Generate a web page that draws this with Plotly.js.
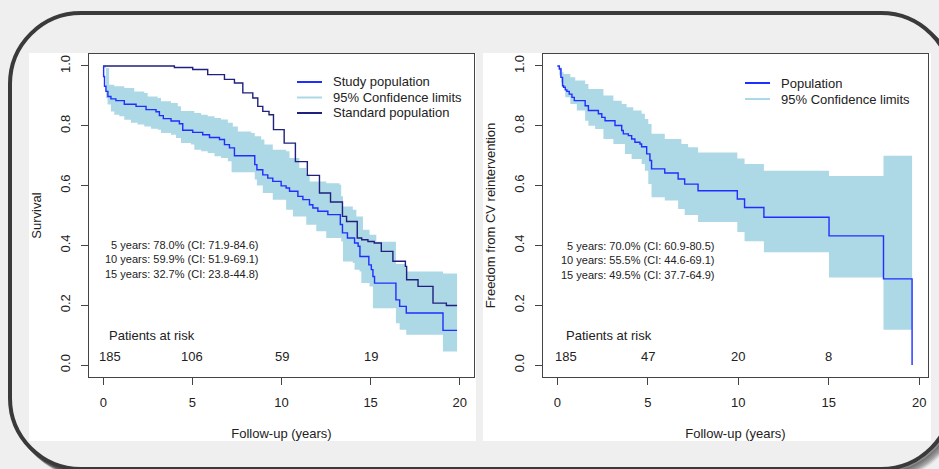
<!DOCTYPE html>
<html><head><meta charset="utf-8">
<script src="https://cdn.plot.ly/plotly-3.0.1.min.js"></script>
<style>html,body{margin:0;padding:0;background:#efefef;}#chart{width:939px;height:469px;}</style>
</head><body><div id="chart"></div>
<script>
// ---------- LEFT PANEL: overall survival ----------
const studyT = [0, 0.02, 0.07, 0.15, 0.26, 0.43, 0.71, 1.18, 1.84, 2.40, 2.96, 3.15, 3.37, 3.80, 4.27, 4.46, 5.02, 5.58, 5.96, 6.52, 6.80, 7.08, 7.36, 8.50, 8.62, 8.95, 9.23, 9.51, 9.98, 10.26, 10.45, 10.92, 11.20, 11.57, 11.76, 12.04, 12.60, 13.30, 13.42, 13.70, 14.10, 14.30, 14.40, 14.90, 15.04, 15.13, 15.22, 16.42, 16.63, 17.00, 19.06];
const studyS = [1.0, 0.965, 0.932, 0.915, 0.898, 0.890, 0.884, 0.872, 0.865, 0.854, 0.847, 0.834, 0.824, 0.816, 0.807, 0.785, 0.778, 0.770, 0.761, 0.754, 0.737, 0.726, 0.700, 0.670, 0.653, 0.636, 0.625, 0.614, 0.599, 0.592, 0.581, 0.564, 0.553, 0.536, 0.525, 0.514, 0.503, 0.470, 0.442, 0.425, 0.408, 0.397, 0.363, 0.335, 0.319, 0.296, 0.274, 0.218, 0.196, 0.174, 0.116];
const studyEnd = 19.85;

const studyUpT = [0, 0.06, 0.33, 0.62, 1.18, 1.74, 2.30, 2.49, 3.05, 3.24, 3.80, 4.18, 4.36, 5.11, 5.49, 5.86, 6.24, 6.61, 6.99, 7.27, 7.55, 8.30, 8.50, 8.86, 9.04, 9.51, 10.26, 10.45, 11.00, 11.39, 11.58, 12.51, 13.26, 13.35, 13.45, 14.00, 14.20, 14.57, 14.94, 15.32, 16.42, 17.00, 19.06];
const studyUpS = [1.0, 0.993, 0.937, 0.932, 0.926, 0.915, 0.910, 0.898, 0.893, 0.882, 0.876, 0.865, 0.849, 0.843, 0.837, 0.832, 0.826, 0.821, 0.810, 0.798, 0.781, 0.776, 0.765, 0.754, 0.737, 0.720, 0.715, 0.692, 0.659, 0.637, 0.614, 0.608, 0.603, 0.564, 0.530, 0.519, 0.497, 0.452, 0.436, 0.412, 0.338, 0.313, 0.306];

const studyLoT = [0, 0.15, 0.24, 0.43, 0.62, 0.90, 1.18, 1.55, 1.93, 2.30, 2.68, 3.05, 3.24, 3.80, 4.08, 4.36, 4.92, 5.11, 5.49, 5.86, 6.24, 6.61, 6.99, 7.20, 8.50, 8.62, 8.95, 9.51, 10.26, 10.64, 11.39, 11.95, 12.51, 13.35, 13.45, 14.00, 14.10, 14.38, 14.48, 14.94, 15.13, 16.42, 16.63, 17.00, 19.06];
const studyLoS = [1.0, 0.893, 0.871, 0.848, 0.837, 0.832, 0.820, 0.810, 0.804, 0.798, 0.790, 0.787, 0.776, 0.770, 0.759, 0.742, 0.737, 0.720, 0.715, 0.709, 0.698, 0.692, 0.681, 0.645, 0.620, 0.600, 0.575, 0.553, 0.519, 0.497, 0.469, 0.447, 0.425, 0.413, 0.346, 0.341, 0.319, 0.313, 0.274, 0.263, 0.190, 0.140, 0.118, 0.101, 0.045];

const stdT = [0, 3.99, 5.02, 5.86, 6.80, 7.36, 7.83, 8.39, 8.67, 8.95, 9.30, 9.55, 10.15, 10.78, 11.45, 12.13, 12.75, 13.42, 13.65, 14.25, 14.50, 14.85, 15.20, 15.60, 16.25, 16.95, 17.02, 17.66, 18.50, 19.25];
const stdS = [1.0, 0.995, 0.988, 0.971, 0.955, 0.943, 0.910, 0.893, 0.865, 0.848, 0.837, 0.787, 0.742, 0.680, 0.634, 0.575, 0.545, 0.497, 0.480, 0.425, 0.419, 0.413, 0.408, 0.380, 0.347, 0.330, 0.285, 0.263, 0.207, 0.199];
const stdEnd = 19.85;

const leftLegendNames = ["Study population", "95% Confidence limits", "Standard population"];
const leftRiskYears = [0, 5, 10, 15];
const leftRiskN = ["185", "106", "59", "19"];
const leftCIText = ["5 years: 78.0% (CI: 71.9-84.6)", "10 years: 59.9% (CI: 51.9-69.1)", "15 years: 32.7% (CI: 23.8-44.8)"];

// ---------- RIGHT PANEL: freedom from CV reintervention ----------
const popT = [0, 0.11, 0.20, 0.29, 0.35, 0.44, 0.53, 0.66, 0.81, 0.94, 1.54, 1.72, 2.27, 2.46, 2.64, 3.19, 3.56, 3.65, 3.93, 4.11, 4.29, 4.57, 4.66, 4.94, 5.12, 5.21, 5.94, 6.68, 7.04, 7.78, 9.95, 10.35, 11.42, 15.02, 18.03, 19.61];
const popS = [1.0, 0.990, 0.962, 0.934, 0.929, 0.920, 0.915, 0.906, 0.895, 0.884, 0.867, 0.851, 0.840, 0.828, 0.817, 0.801, 0.784, 0.773, 0.767, 0.756, 0.745, 0.739, 0.730, 0.706, 0.684, 0.656, 0.642, 0.622, 0.605, 0.583, 0.555, 0.527, 0.494, 0.432, 0.288, 0.0];
const popEnd = 19.61;

const popUpT = [0, 0.165, 0.26, 0.35, 0.72, 0.99, 1.54, 1.72, 2.55, 3.10, 3.56, 3.83, 4.20, 4.66, 4.84, 5.03, 5.21, 5.94, 6.86, 7.23, 7.78, 9.95, 10.35, 11.42, 15.02, 18.03];
const popUpS = [1.0, 0.995, 0.979, 0.973, 0.962, 0.951, 0.940, 0.923, 0.901, 0.884, 0.873, 0.862, 0.851, 0.840, 0.823, 0.806, 0.773, 0.756, 0.739, 0.728, 0.711, 0.691, 0.672, 0.650, 0.632, 0.700];

const popLoT = [0, 0.11, 0.20, 0.26, 0.44, 0.72, 1.08, 1.54, 1.72, 2.09, 2.55, 3.10, 3.74, 4.11, 4.66, 4.84, 5.03, 5.21, 5.94, 6.68, 7.04, 7.78, 9.95, 10.35, 11.42, 15.02, 18.03];
const popLoS = [1.0, 0.970, 0.945, 0.929, 0.895, 0.873, 0.851, 0.817, 0.800, 0.789, 0.756, 0.739, 0.706, 0.689, 0.672, 0.650, 0.605, 0.561, 0.550, 0.522, 0.502, 0.478, 0.445, 0.414, 0.377, 0.293, 0.118];

const rightLegendNames = ["Population", "95% Confidence limits"];
const rightRiskYears = [0, 5, 10, 15];
const rightRiskN = ["185", "47", "20", "8"];
const rightCIText = ["5 years: 70.0% (CI: 60.9-80.5)", "10 years: 55.5% (CI: 44.6-69.1)", "15 years: 49.5% (CI: 37.7-64.9)"];

const xTicks = [0, 5, 10, 15, 20];
const yTicks = [0, 0.2, 0.4, 0.6, 0.8, 1.0];

// ---------- helpers ----------
const W = 939, H = 469;
const FONT = "Liberation Sans, Arial, Helvetica, sans-serif";
const BLUE = "#1f2fff", NAVY = "#20207f", BAND = "#ADD8E6", INK = "#222";

function stepLine(ts, vs, tEnd) {
  return { x: ts.concat([tEnd]), y: vs.concat([vs[vs.length - 1]]) };
}
function stepPts(ts, vs, tEnd) {
  const x = [], y = [];
  for (let i = 0; i < ts.length; i++) {
    if (i > 0) { x.push(ts[i]); y.push(vs[i - 1]); }
    x.push(ts[i]); y.push(vs[i]);
  }
  x.push(tEnd); y.push(vs[vs.length - 1]);
  return { x, y };
}
function band(upT, upS, loT, loS, tEnd, xa, ya) {
  const u = stepPts(upT, upS, tEnd), l = stepPts(loT, loS, tEnd);
  return {
    x: u.x.concat(l.x.slice().reverse()), y: u.y.concat(l.y.slice().reverse()),
    xaxis: xa, yaxis: ya, type: "scatter", mode: "lines", fill: "toself",
    fillcolor: BAND, line: { width: 0, color: BAND }, showlegend: false, hoverinfo: "skip",
    name: "95% Confidence limits"
  };
}
function P(px, py) { return (px / W).toFixed(5) + "," + (1 - py / H).toFixed(5); }
function rr(x0, y0, x1, y1, r) {
  const k = 0.5523 * r;
  return "M" + P(x0 + r, y0) + " L" + P(x1 - r, y0) +
    " C" + P(x1 - r + k, y0) + " " + P(x1, y0 + r - k) + " " + P(x1, y0 + r) +
    " L" + P(x1, y1 - r) +
    " C" + P(x1, y1 - r + k) + " " + P(x1 - r + k, y1) + " " + P(x1 - r, y1) +
    " L" + P(x0 + r, y1) +
    " C" + P(x0 + r - k, y1) + " " + P(x0, y1 - r + k) + " " + P(x0, y1 - r) +
    " L" + P(x0, y0 + r) +
    " C" + P(x0, y0 + r - k) + " " + P(x0 + r - k, y0) + " " + P(x0 + r, y0) + " Z";
}

// ---------- traces ----------
const sL = stepLine(studyT, studyS, studyEnd);
const dL = stepLine(stdT, stdS, stdEnd);
const pL = stepLine(popT, popS, popEnd);

const traces = [
  band(studyUpT, studyUpS, studyLoT, studyLoS, studyEnd, "x", "y"),
  { x: dL.x, y: dL.y, xaxis: "x", yaxis: "y", type: "scatter", mode: "lines", line: { shape: "hv", color: NAVY, width: 1.4 },
    name: "Standard population", showlegend: false },
  { x: sL.x, y: sL.y, xaxis: "x", yaxis: "y", type: "scatter", mode: "lines", line: { shape: "hv", color: BLUE, width: 1.4 },
    name: "Study population", showlegend: false },
  band(popUpT, popUpS, popLoT, popLoS, popEnd, "x2", "y2"),
  { x: pL.x, y: pL.y, xaxis: "x2", yaxis: "y2", type: "scatter", mode: "lines", line: { shape: "hv", color: BLUE, width: 1.4 },
    name: "Population", showlegend: false }
];

// ---------- axes ----------
function xAxis(domain, range, anchor) {
  return {
    domain, range, anchor, tickvals: xTicks, showline: true, mirror: true, linecolor: "#444", linewidth: 1,
    ticks: "outside", ticklen: 7, tickcolor: "#444", showgrid: false, zeroline: false, automargin: false,
    tickfont: { size: 13, color: INK }, ticklabelstandoff: 6,
    title: { text: "Follow-up (years)", font: { size: 13, color: INK }, standoff: 20 }
  };
}
function yAxis(domain, anchor, title) {
  return {
    domain, range: [-0.04, 1.04], anchor, tickvals: yTicks, tickformat: ".1f", tickangle: -90,
    showline: true, mirror: true, linecolor: "#444", linewidth: 1,
    ticks: "outside", ticklen: 7, tickcolor: "#444", showgrid: false, zeroline: false, automargin: false,
    tickfont: { size: 13, color: INK }, ticklabelstandoff: 6,
    title: { text: title, font: { size: 13, color: INK }, standoff: 13 }
  };
}
const yDom = [1 - 377 / H, 1 - 54 / H];

// ---------- annotations ----------
const ann = [];
ann.push({ xref: "x", yref: "y", x: 8.82, y: 0.352, text: leftCIText.join("<br>"), align: "right", xanchor: "right", yanchor: "middle",
  showarrow: false, font: { size: 11, color: INK } });
ann.push({ xref: "x2", yref: "y2", x: 8.79, y: 0.351, text: rightCIText.join("<br>"), align: "right", xanchor: "right", yanchor: "middle",
  showarrow: false, font: { size: 11, color: INK } });
ann.push({ xref: "x", yref: "y", x: 0.22, y: 0.098, text: "Patients at risk", xanchor: "left", yanchor: "middle", showarrow: false, font: { size: 13, color: INK } });
ann.push({ xref: "x2", yref: "y2", x: 0.35, y: 0.098, text: "Patients at risk", xanchor: "left", yanchor: "middle", showarrow: false, font: { size: 13, color: INK } });
leftRiskYears.forEach((t, i) => ann.push({ xref: "x", yref: "y", x: i === 0 ? 0.39 : t, y: 0.029, text: leftRiskN[i], xanchor: "center", yanchor: "middle", showarrow: false, font: { size: 13, color: INK } }));
rightRiskYears.forEach((t, i) => ann.push({ xref: "x2", yref: "y2", x: i === 0 ? 0.47 : t, y: 0.029, text: rightRiskN[i], xanchor: "center", yanchor: "middle", showarrow: false, font: { size: 13, color: INK } }));

// ---------- frame & panels ----------
const shapes = [];
[7, 6, 5, 4, 3, 2].forEach((d, i) => shapes.push({ type: "path", xref: "paper", yref: "paper", layer: "below",
  path: rr(10 + d, 13 + d, 952 + d, 469 + d, 71), line: { color: "rgba(30,30,30," + (0.10 + i * 0.04) + ")", width: 4 } }));
shapes.push({ type: "path", xref: "paper", yref: "paper", layer: "below", path: rr(10, 13, 952, 469, 71),
  fillcolor: "#efefef", line: { color: "#3a3a3a", width: 4 } });
shapes.push({ type: "rect", xref: "paper", yref: "paper", layer: "below", x0: 29 / W, x1: 476 / W, y0: 1 - 441 / H, y1: 1 - 53 / H,
  fillcolor: "#ffffff", line: { width: 0 } });
shapes.push({ type: "rect", xref: "paper", yref: "paper", layer: "below", x0: 483 / W, x1: 931 / W, y0: 1 - 441 / H, y1: 1 - 53 / H,
  fillcolor: "#ffffff", line: { width: 0 } });

// ---------- legends (line key + label), drawn in each panel's top-right ----------
function legendBlock(names, colors, lx0, lx1, tx, rows) {
  names.forEach((nm, i) => {
    shapes.push({ type: "line", xref: "paper", yref: "paper", layer: "above",
      x0: lx0 / W, x1: lx1 / W, y0: 1 - rows[i] / H, y1: 1 - rows[i] / H, line: { color: colors[i], width: 2 } });
    ann.push({ xref: "paper", yref: "paper", x: tx / W, y: 1 - rows[i] / H, text: nm, xanchor: "left", yanchor: "middle",
      showarrow: false, font: { size: 13, color: INK } });
  });
}
legendBlock(leftLegendNames, [BLUE, BAND, NAVY], 297, 322, 331, [82, 97.5, 113]);
legendBlock(rightLegendNames, [BLUE, BAND], 745, 770, 779, [83, 99]);

const layout = {
  width: W, height: H, margin: { l: 0, r: 0, t: 0, b: 0 },
  paper_bgcolor: "#efefef", plot_bgcolor: "#ffffff",
  font: { family: FONT, size: 13, color: INK },
  xaxis: xAxis([89 / W, 474 / W], [-0.8, 20.8], "y"),
  yaxis: yAxis(yDom, "x", "Survival"),
  xaxis2: xAxis([543 / W, 928 / W], [-0.79, 20.49], "y2"),
  yaxis2: yAxis(yDom, "x2", "Freedom from CV reintervention"),
  annotations: ann, shapes: shapes, hovermode: false, showlegend: false
};

Plotly.newPlot("chart", traces, layout, { staticPlot: true, displayModeBar: false });
</script></body></html>
